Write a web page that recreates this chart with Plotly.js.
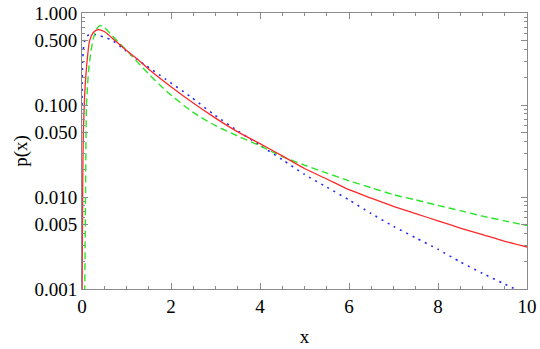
<!DOCTYPE html>
<html>
<head>
<meta charset="utf-8">
<script src="https://cdn.plot.ly/plotly-3.0.1.min.js"></script>
<style>
  html, body { margin: 0; padding: 0; background: #fff; }
  #plot { width: 540px; height: 349px; }
</style>
</head>
<body>
<div id="plot"></div>
<script>
// values
const redX = [0.003, 0.008, 0.015, 0.03, 0.06, 0.09, 0.12, 0.17, 0.25, 0.36, 0.5, 0.65, 0.81, 1.0, 1.26, 1.5, 2.0, 2.5, 3.0, 3.5, 4, 4.5, 5, 5.5, 6, 6.5, 7, 7.5, 8, 8.5, 9, 9.5, 10];
const redY = [0.0008, 0.003, 0.012, 0.05, 0.13, 0.22, 0.32, 0.50, 0.61, 0.66, 0.63, 0.55, 0.47, 0.39, 0.31, 0.245, 0.158, 0.105, 0.072, 0.051, 0.038, 0.028, 0.0204, 0.0157, 0.0120, 0.0097, 0.0079, 0.0066, 0.0055, 0.0046, 0.0039, 0.0033, 0.00286];

const greenX = [0.06, 0.07, 0.08, 0.09, 0.1, 0.13, 0.16, 0.2, 0.25, 0.32, 0.4, 0.5, 0.66, 0.85, 1.03, 1.2, 1.37, 1.9, 2.5, 3.03, 3.55, 4.0, 4.5, 5.0, 5.5, 6.0, 6.5, 7.0, 7.5, 8.0, 8.5, 9.0, 9.5, 10];
const greenY = [0.0007, 0.003, 0.012, 0.045, 0.10, 0.18, 0.27, 0.38, 0.52, 0.66, 0.73, 0.70, 0.58, 0.465, 0.38, 0.31, 0.252, 0.141, 0.083, 0.0585, 0.0449, 0.036, 0.0275, 0.0222, 0.0182, 0.0150, 0.0126, 0.0106, 0.0093, 0.0081, 0.0071, 0.0062, 0.0055, 0.0049];

const blueX = [0, 0.005, 0.01, 0.02, 0.04, 0.07, 0.1, 0.15, 0.21, 0.3, 0.4, 0.5, 0.66, 0.9, 1.15, 1.41, 1.87, 2.43, 2.97, 3.52, 4.0, 4.5, 5.0, 5.5, 6.0, 6.5, 7.0, 7.5, 8.0, 8.5, 9.0, 9.5, 10];
const blueY = [0.1, 0.17, 0.24, 0.33, 0.45, 0.52, 0.555, 0.575, 0.58, 0.58, 0.565, 0.545, 0.51, 0.42, 0.337, 0.274, 0.192, 0.124, 0.0785, 0.0516, 0.0365, 0.0255, 0.0176, 0.0128, 0.0093, 0.0066, 0.0048, 0.0036, 0.0027, 0.00197, 0.00148, 0.00113, 0.00087];

const yTickVals = [0.001, 0.005, 0.01, 0.05, 0.1, 0.5, 1];
const yTickText = ['0.001', '0.005', '0.010', '0.050', '0.100', '0.500', '1.000'];
const yMinorVals = [0.002, 0.003, 0.004, 0.006, 0.007, 0.008, 0.009,
                    0.02, 0.03, 0.04, 0.06, 0.07, 0.08, 0.09,
                    0.2, 0.3, 0.4, 0.6, 0.7, 0.8, 0.9];
const xTickVals = [0, 2, 4, 6, 8, 10];

const frameColor = '#8a8a8a';
const serif = 'Liberation Serif, Times New Roman, serif';

const traces = [
    {
        x: blueX, y: blueY, mode: 'lines', type: 'scatter',
        line: { color: 'rgb(40,40,255)', width: 1.6, dash: '2px,5px', shape: 'spline', smoothing: 0.6 },
    },
    {
        x: greenX, y: greenY, mode: 'lines', type: 'scatter',
        line: { color: 'rgb(40,230,40)', width: 1.4, dash: '7px,4px', shape: 'spline', smoothing: 0.6 },
    },
    {
        x: redX, y: redY, mode: 'lines', type: 'scatter',
        line: { color: 'rgb(255,40,40)', width: 1.3, shape: 'spline', smoothing: 0.6 },
    },
];

const layout = {
    width: 540,
    height: 349,
    margin: { l: 82, r: 13, t: 13, b: 60 },
    paper_bgcolor: '#fff',
    plot_bgcolor: '#fff',
    showlegend: false,
    font: { family: serif, size: 19, color: '#000' },
    xaxis: {
        range: [0, 10],
        tickmode: 'array',
        tickvals: xTickVals,
        ticks: 'inside',
        ticklen: 6,
        tickcolor: frameColor,
        showline: true,
        linecolor: frameColor,
        linewidth: 1,
        mirror: 'ticks',
        showgrid: false,
        zeroline: false,
        minor: { dtick: 0.5, ticks: 'inside', ticklen: 3, tickcolor: frameColor, showgrid: false },
        title: { text: 'x', standoff: 13, font: { family: serif, size: 19 } },
    },
    yaxis: {
        type: 'log',
        range: [-3, 0],
        tickmode: 'array',
        tickvals: yTickVals,
        ticktext: yTickText,
        ticks: 'inside',
        ticklen: 6,
        tickcolor: frameColor,
        showline: true,
        linecolor: frameColor,
        linewidth: 1,
        mirror: 'ticks',
        showgrid: false,
        zeroline: false,
        minor: { tickmode: 'array', tickvals: yMinorVals, ticks: 'inside', ticklen: 3, tickcolor: frameColor, showgrid: false },
        title: { text: 'p(x)', standoff: 1, font: { family: serif, size: 19 } },
    },
};

Plotly.newPlot('plot', traces, layout, { displayModeBar: false, staticPlot: true });
</script>
</body>
</html>
